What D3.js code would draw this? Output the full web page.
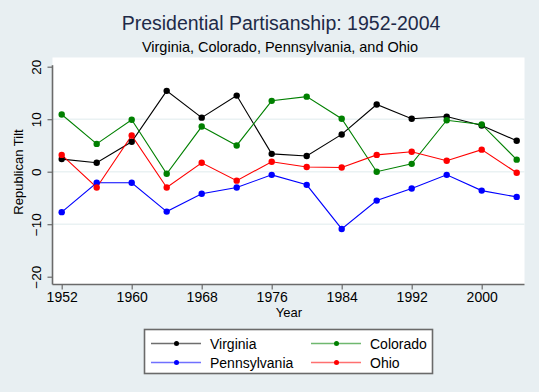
<!DOCTYPE html>
<html><head><meta charset="utf-8">
<script src="https://cdn.jsdelivr.net/npm/d3@7"></script>
<style>body{margin:0;background:#e8eff2;} svg{display:block;font-family:"Liberation Sans",Arial,sans-serif;}</style>
</head><body>
<script>
const years = [1952,1956,1960,1964,1968,1972,1976,1980,1984,1988,1992,1996,2000,2004];
const virginia     = [2.4,1.7,5.7,15.4,10.3,14.5,3.4,3.0,7.1,12.8,10.1,10.5,8.8,5.9];
const colorado     = [10.9,5.3,9.9,-0.4,8.6,5.0,13.5,14.3,10.1,0.0,1.5,9.8,9.0,2.3];
const pennsylvania = [-7.7,-2.1,-2.1,-7.6,-4.2,-3.0,-0.6,-2.5,-10.9,-5.5,-3.2,-0.6,-3.6,-4.8];
const ohio         = [3.2,-3.0,6.9,-3.0,1.7,-1.7,1.9,0.9,0.8,3.2,3.8,2.1,4.2,-0.2];
const xTicks = [1952,1960,1968,1976,1984,1992,2000];
const yTicks = [-20,-10,0,10,20];
const seriesNames = ["Virginia","Colorado","Pennsylvania","Ohio"];

const series = [
  {name:seriesNames[0], values:virginia, color:"#000000", legendLine:"#6e6e6e"},
  {name:seriesNames[1], values:colorado, color:"#008000", legendLine:"#6fb86f"},
  {name:seriesNames[2], values:pennsylvania, color:"#0000ff", legendLine:"#7070ff"},
  {name:seriesNames[3], values:ohio, color:"#ff0000", legendLine:"#ff7070"}
];

const W=539,H=392;
const svg=d3.select("body").append("svg").attr("width",W).attr("height",H);
svg.append("rect").attr("width",W).attr("height",H).attr("fill","#e8eff2");

const plot={left:52.5,right:524.5,top:57.5,bottom:284.5};
svg.append("rect").attr("x",plot.left).attr("y",plot.top).attr("width",plot.right-plot.left).attr("height",plot.bottom-plot.top).attr("fill","#ffffff");

const x=d3.scaleLinear().domain([1952,2000]).range([61.7,481.7]);
const y=d3.scaleLinear().domain([-20,20]).range([276.7,66.7]);

// gridlines
svg.append("g").selectAll("line").data([-10,0,10]).join("line")
  .attr("x1",plot.left).attr("x2",plot.right)
  .attr("y1",d=>y(d)).attr("y2",d=>y(d))
  .attr("stroke","#eaf2f3").attr("stroke-width",1.5);

// title
svg.append("text").attr("x",281).attr("y",30).attr("text-anchor","middle")
  .attr("font-size",19.5).attr("fill","#1e2a48").text("Presidential Partisanship: 1952-2004");
svg.append("text").attr("x",280).attr("y",52).attr("text-anchor","middle")
  .attr("font-size",14.5).attr("fill","#000").text("Virginia, Colorado, Pennsylvania, and Ohio");

// y axis
const yAxis=d3.axisLeft(y).tickValues(yTicks).tickSize(5).tickPadding(5);
const gy=svg.append("g").attr("transform",`translate(${plot.left},0)`).call(yAxis);
gy.select(".domain").attr("d",`M0,${y(20)-1.5}V${plot.bottom}`).attr("stroke","#6a6a6a").attr("stroke-width",1.6);
gy.selectAll(".tick line").attr("stroke","#6a6a6a").attr("stroke-width",1.2);
gy.selectAll(".tick text").attr("font-size",13.5).attr("fill","#000")
  .attr("font-family","Liberation Sans, Arial, sans-serif")
  .attr("text-anchor","middle").attr("dy",0).attr("x",0)
  .attr("transform","translate(-12,0) rotate(-90)").attr("dominant-baseline","auto");
svg.append("text").attr("transform","translate(23,172) rotate(-90)").attr("text-anchor","middle")
  .attr("font-size",13).attr("fill","#000").text("Republican Tilt");

// x axis
const xAxis=d3.axisBottom(x).tickValues(xTicks).tickFormat(d3.format("d")).tickSize(5).tickPadding(3);
const gx=svg.append("g").attr("transform",`translate(0,${plot.bottom})`).call(xAxis);
gx.select(".domain").attr("d",`M${plot.left},0H${plot.right}`).attr("stroke","#6a6a6a").attr("stroke-width",1.6);
gx.selectAll(".tick line").attr("stroke","#6a6a6a").attr("stroke-width",1.2);
gx.selectAll(".tick text").attr("font-size",14).attr("fill","#000").attr("font-family","Liberation Sans, Arial, sans-serif");
svg.append("text").attr("x",289).attr("y",317).attr("text-anchor","middle")
  .attr("font-size",13).attr("fill","#000").text("Year");

// lines
const line=d3.line().x((d,i)=>x(years[i])).y(d=>y(d));
const g=svg.append("g");
series.forEach(s=>{
  g.append("path").datum(s.values).attr("d",line).attr("fill","none").attr("stroke",s.color).attr("stroke-width",1.1);
});
series.forEach(s=>{
  g.selectAll(null).data(s.values).join("circle")
    .attr("cx",(d,i)=>x(years[i])).attr("cy",d=>y(d)).attr("r",3.2).attr("fill",s.color);
});

// legend
const lg=svg.append("g");
lg.append("rect").attr("x",144.5).attr("y",329.5).attr("width",288).attr("height",44)
  .attr("fill","#fff").attr("stroke","#6a6a6a").attr("stroke-width",1.6);
const legPos=[[151,343.5],[311,343.5],[151,362.5],[311,362.5]];
series.forEach((s,i)=>{
  const [lx,ly]=legPos[i];
  lg.append("line").attr("x1",lx).attr("x2",lx+50).attr("y1",ly).attr("y2",ly).attr("stroke",s.legendLine).attr("stroke-width",1.6);
  lg.append("circle").attr("cx",lx+25.5).attr("cy",ly).attr("r",2.5).attr("fill",s.color);
  lg.append("text").attr("x",lx+59).attr("y",ly+5).attr("font-size",14).attr("fill","#000").text(s.name);
});
</script>
</body></html>
